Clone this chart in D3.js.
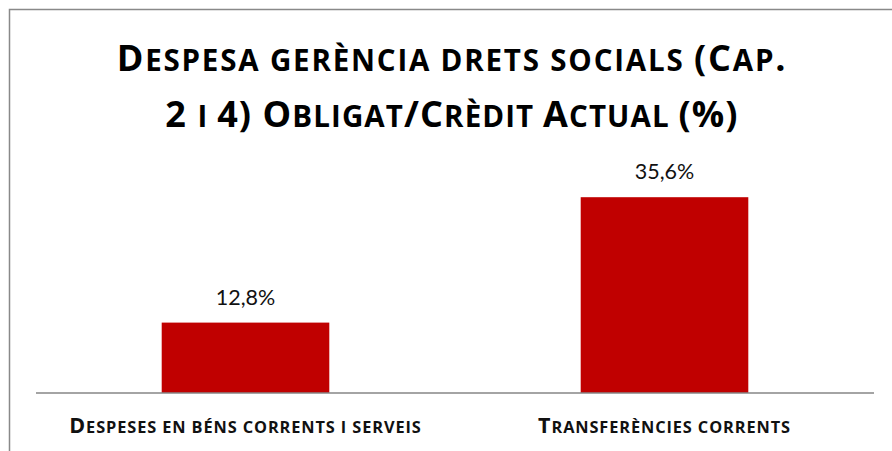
<!DOCTYPE html>
<html>
  <head>
    <meta charset="utf-8">
    <title>Despesa gerència drets socials</title>
    <script src="https://cdn.jsdelivr.net/npm/d3@7"></script>
    <style>
      body { margin: 0; background: #fff; }
      #chart { display: block; font-family: Lato, "Open Sans", sans-serif; }
      .bold { font-family: "Open Sans", Lato, sans-serif; font-weight: bold; }
    </style>
  </head>

  <body>
    <svg id="chart" width="892" height="451"></svg>

    <script>
      // data
      const titleLines = ["Despesa gerència drets socials (Cap.", "2 i 4) Obligat/Crèdit Actual (%)"];
      const categories = ["Despeses en béns corrents i serveis", "Transferències corrents"];
      const values = [12.8, 35.6];

      const width = 892, height = 451;
      const margin = {top: 173, bottom: 58, left: 36, right: 18};

      const chart = d3.select("#chart");

      // frame
      chart.append("rect")
          .attr("x", 9.5).attr("y", 9.5)
          .attr("width", width).attr("height", height)
          .attr("fill", "none")
          .attr("stroke", "#898989")
          .attr("stroke-width", 1.5);

      const x = d3.scaleBand()
          .domain(categories)
          .range([margin.left, width - margin.right])
          .paddingInner(0.6)
          .paddingOuter(0.3);

      const y = d3.scaleLinear()
          .domain([0, 40])
          .range([height - margin.bottom, margin.top]);

      // small caps: lowercase letters shown as smaller capitals
      function smallCaps(sel, str, size, ratio) {
        const runs = [];
        for (const ch of str) {
          const small = ch !== ch.toUpperCase();
          const last = runs[runs.length - 1];
          if (last && (last.small === small || ch === " ")) last.text += ch;
          else runs.push({small: small, text: ch});
        }
        sel.selectAll("tspan")
          .data(runs)
          .join("tspan")
            .attr("font-size", d => d.small ? size * ratio : size)
            .text(d => d.text.toUpperCase());
      }

      // bars
      chart.append("g")
        .selectAll("rect")
        .data(values)
        .join("rect")
          .attr("x", (d, i) => x(categories[i]))
          .attr("y", d => y(d))
          .attr("width", x.bandwidth())
          .attr("height", d => y(0) - y(d))
          .attr("fill", "#c00000");

      // baseline
      chart.append("line")
          .attr("x1", margin.left).attr("x2", width - margin.right)
          .attr("y1", y(0)).attr("y2", y(0))
          .attr("stroke", "#868686")
          .attr("stroke-width", 1.5);

      // value labels
      chart.append("g")
        .selectAll("text")
        .data(values)
        .join("text")
          .attr("x", (d, i) => x(categories[i]) + x.bandwidth() / 2)
          .attr("y", d => y(d) - 18)
          .attr("text-anchor", "middle")
          .attr("font-size", 21.5)
          .attr("fill", "#111")
          .text(d => d.toFixed(1).replace(".", ",") + "%");

      // category labels
      chart.append("g")
        .selectAll("text")
        .data(categories)
        .join("text")
          .attr("class", "bold")
          .attr("x", d => x(d) + x.bandwidth() / 2)
          .attr("y", y(0) + 40)
          .attr("text-anchor", "middle")
          .attr("letter-spacing", 0.9)
          .attr("fill", "#111")
          .each(function(d) { smallCaps(d3.select(this), d, 21.5, 0.76); });

      // title
      chart.append("g")
        .selectAll("text")
        .data(titleLines)
        .join("text")
          .attr("class", "bold")
          .attr("x", 452)
          .attr("y", (d, i) => 71 + i * 56)
          .attr("text-anchor", "middle")
          .attr("letter-spacing", (d, i) => i ? 1.1 : 1.8)
          .attr("fill", "#000")
          .each(function(d) { smallCaps(d3.select(this), d, 36, 0.82); });
    </script>
  </body>
</html>
